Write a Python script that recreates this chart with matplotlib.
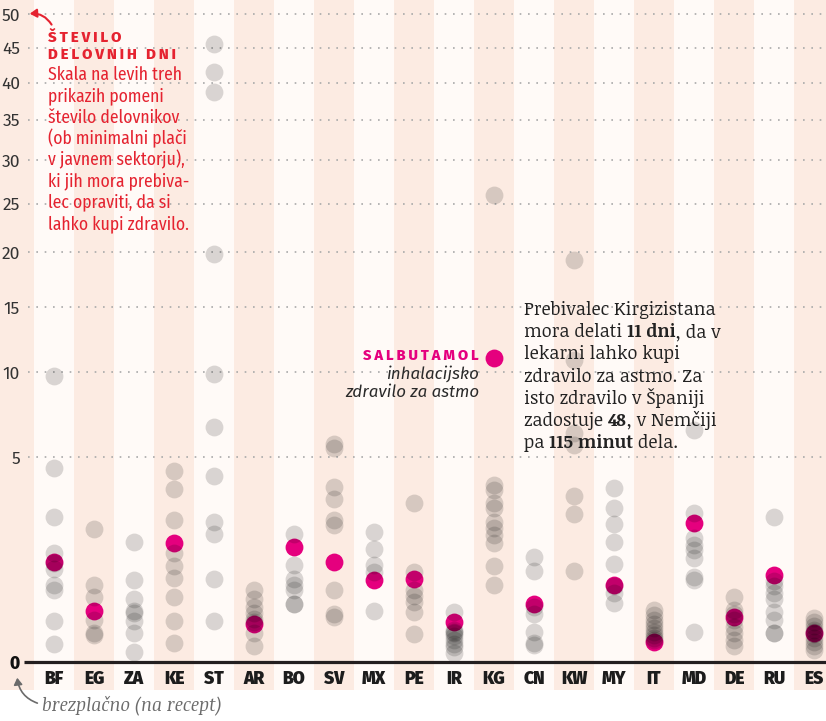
import numpy as np
import matplotlib
matplotlib.use("Agg")
import matplotlib.pyplot as plt
from matplotlib.patches import FancyArrowPatch

countries = ["BF", "EG", "ZA", "KE", "ST", "AR", "BO", "SV", "MX", "PE",
             "IR", "KG", "CN", "KW", "MY", "IT", "MD", "DE", "RU", "ES"]

# working days needed for salbutamol (None = not available)
salbutamol = [1.20, 0.31, None, 1.70, None, 0.17, 1.58, 1.20, 0.80, 0.82,
              0.19, 11.0, 0.40, None, 0.71, 0.049, 2.31, 0.24, 0.90, 0.10]

# working days needed for the other medicines
other_medicines = [
    [9.75, 4.5, 2.51, 1.42, 1.17, 1.03, 0.71, 0.61, 0.20, 0.04],
    [2.10, 0.71, 0.51, 0.21, 0.10, 0.09],
    [1.71, 0.80, 0.47, 0.31, 0.29, 0.20, 0.098, 0.011],
    [4.35, 3.57, 2.41, 1.41, 1.10, 0.84, 0.50, 0.20, 0.042],
    [45.5, 41.5, 38.7, 19.8, 9.9, 6.56, 4.14, 2.35, 1.95, 0.82, 0.20],
    [0.62, 0.47, 0.36, 0.29, 0.22, 0.19, 0.10, 0.03],
    [1.94, 1.11, 0.82, 0.71, 0.62, 0.40, 0.40],
    [5.66, 5.46, 3.66, 3.17, 2.40, 2.24, 0.61, 0.28, 0.24],
    [2.02, 1.51, 1.12, 0.97, 0.31],
    [3.02, 0.97, 0.62, 0.52, 0.43, 0.30, 0.093],
    [0.30, 0.12, 0.11, 0.10, 0.08, 0.058, 0.04, 0.028, 0.009],
    [26.0, 3.73, 3.53, 3.0, 2.82, 2.35, 2.13, 1.92, 1.70, 1.10, 0.71],
    [1.32, 0.99, 0.36, 0.28, 0.105, 0.042, 0.034],
    [19.26, 10.87, 6.23, 5.61, 3.28, 2.60, 0.99],
    [3.62, 2.84, 2.26, 1.72, 1.14, 0.68, 0.56, 0.41],
    [0.32, 0.26, 0.21, 0.17, 0.138, 0.107, 0.087, 0.069, 0.06],
    [6.41, 2.64, 1.82, 1.63, 1.50, 1.28, 0.87, 0.80, 0.105],
    [0.51, 0.32, 0.27, 0.21, 0.15, 0.098, 0.058, 0.032],
    [2.52, 0.78, 0.68, 0.56, 0.48, 0.30, 0.21, 0.098, 0.098],
    [0.23, 0.19, 0.154, 0.122, 0.11, 0.093, 0.069, 0.048, 0.031, 0.017],
]

y_ticks = [0, 5, 10, 15, 20, 25, 30, 35, 40, 45, 50]

W, H = 826, 721
BASE = 662          # pixel row of the zero line
K = 91.6            # pixels per sqrt-unit
RED = "#e52330"
MAGENTA = "#e5007e"
PINK = "#fcebe2"
LIGHT = "#fffaf7"
SANS = ["Fira Sans", "DejaVu Sans"]
COND = ["Fira Sans Condensed", "DejaVu Sans"]
SERIF = ["Noticia Text", "DejaVu Serif"]
GAP = "\u200a\u200a"


def spaced(s):
    return GAP.join(s)


fig = plt.figure(figsize=(W / 100, H / 100), dpi=100, facecolor="white")
ax = fig.add_axes([0, (H - BASE) / H, 1, BASE / H])
ax.set_facecolor("none")
ax.set_xlim(-54 / 40, (W - 54) / 40)


def fwd(v):
    v = np.asarray(v, dtype=float)
    return np.sign(v) * np.sqrt(np.abs(v))


def inv(u):
    u = np.asarray(u, dtype=float)
    return np.sign(u) * u ** 2


ax.set_yscale("function", functions=(fwd, inv))
ax.set_ylim(0, (BASE / K) ** 2)

# alternating column stripes
for i in range(-1, len(countries)):
    ax.axvspan(i - 0.5, i + 0.5, ymin=-28 / BASE, ymax=1,
               color=PINK if i % 2 else LIGHT, lw=0, zorder=0, clip_on=False)

# dotted grid and zero line
ax.hlines(y_ticks[1:], -0.65, len(countries), colors="#a9a9a9",
          linestyles=(0, (1, 4)), lw=1.2, zorder=1)
ax.hlines(0, -0.75, len(countries), colors="#231f20", lw=2.3, zorder=6,
          clip_on=False)

# dots
sx = [i for i, v in enumerate(salbutamol) if v is not None]
sy = [v for v in salbutamol if v is not None]
ax.scatter(sx, sy, s=165, color=MAGENTA, lw=0, zorder=2, clip_on=False)
for i, vals in enumerate(other_medicines):
    ax.scatter([i] * len(vals), vals, s=165, color="black", alpha=0.15,
               lw=0, zorder=3, clip_on=False)

for s in ax.spines.values():
    s.set_visible(False)

ax.set_yticks(y_ticks)
ax.set_yticklabels([str(t) for t in y_ticks], family=SANS, fontsize=12.5,
                   color="#333333")
ax.yaxis.set_minor_locator(matplotlib.ticker.NullLocator())
ax.tick_params(axis="y", length=0, pad=-14.5)
for lab in ax.get_yticklabels():
    lab.set_horizontalalignment("right")
ax.get_yticklabels()[0].set_fontweight("heavy")
ax.get_yticklabels()[0].set_color("#111111")

ax.set_xticks(range(len(countries)))
ax.set_xticklabels(countries, family=SANS, fontweight="black", fontsize=12.5,
                   color="#1c1c1c")
ax.tick_params(axis="x", length=0, pad=6)


def fxy(px, py):
    return px / W, 1 - py / H


# left note
for txt, py in [("ŠTEVILO", 41.7), ("DELOVNIH DNI", 59.3)]:
    fig.text(*fxy(48, py), spaced(txt), color=RED, fontsize=10.8,
             family=SANS, fontweight="heavy", va="baseline", ha="left")
note = ["Skala na levih treh", "prikazih pomeni", "število delovnikov",
        "(ob minimalni plači", "v javnem sektorju),", "ki jih mora prebiva-",
        "lec opraviti, da si", "lahko kupi zdravilo."]
for k, txt in enumerate(note):
    fig.text(*fxy(48, 80 + 21.3 * k), txt, color=RED, fontsize=12.7,
             family=COND, va="baseline", ha="left")

# salbutamol label
fig.text(*fxy(479, 360), spaced("SALBUTAMOL"), color=MAGENTA, fontsize=10.5,
         family=SANS, fontweight="heavy", ha="right", va="baseline")
for txt, py in [("inhalacijsko", 378.7), ("zdravilo za astmo", 397.3)]:
    fig.text(*fxy(479, py), txt, color="#2a2a2a", fontsize=12.2,
             family=SANS, style="italic", ha="right", va="baseline")

# explanation on the right
story = [
    [("Prebivalec Kirgizistana", False)],
    [("mora delati ", False), ("11 dni", True), (", da v", False)],
    [("lekarni lahko kupi", False)],
    [("zdravilo za astmo. Za", False)],
    [("isto zdravilo v Španiji", False)],
    [("zadostuje ", False), ("48", True), (", v Nemčiji", False)],
    [("pa ", False), ("115 minut", True), (" dela.", False)],
]
for k, parts in enumerate(story):
    prev = None
    for txt, bold in parts:
        kw = dict(color="#222222", fontsize=13, family=SERIF,
                  fontweight="bold" if bold else "normal", zorder=10)
        if prev is None:
            prev = fig.text(*fxy(524, 315 + 22.2 * k), txt, ha="left",
                            va="baseline", **kw)
        else:
            prev = ax.annotate(txt, xy=(1, 0), xycoords=prev, ha="left",
                               va="bottom", annotation_clip=False, **kw)

# free-of-charge note
fig.text(*fxy(42, 710), "brezplačno (na recept)", color="#6b6b6b",
         fontsize=12.8, family=SERIF, style="italic",
         ha="left", va="baseline")
fig.patches.append(FancyArrowPatch(
    fxy(40, 704), fxy(17, 675), transform=fig.transFigure,
    connectionstyle="arc3,rad=-0.35",
    arrowstyle="-|>,head_length=4,head_width=2.5",
    color="#6b6b6b", lw=1.2))
fig.patches.append(FancyArrowPatch(
    fxy(53, 27), fxy(27, 14), transform=fig.transFigure,
    connectionstyle="arc3,rad=0.35",
    arrowstyle="-|>,head_length=4,head_width=2.5",
    color=RED, lw=1.5))

fig.savefig("out.png", dpi=100, facecolor="white")
